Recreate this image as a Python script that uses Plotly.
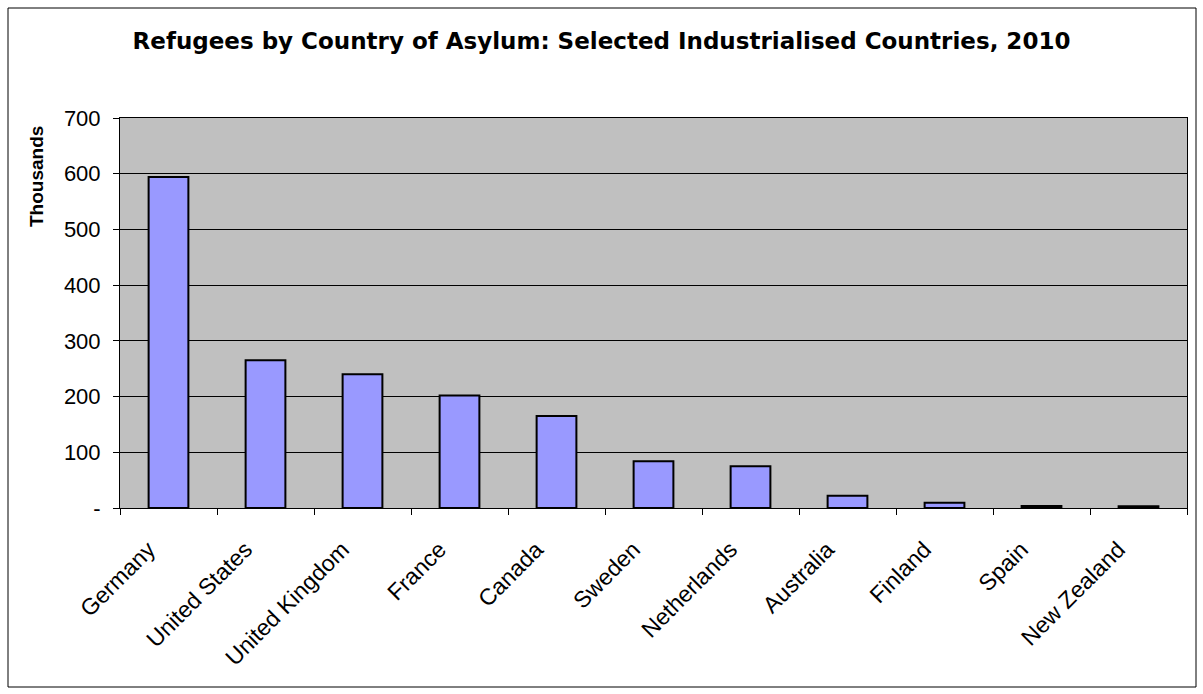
import plotly.graph_objects as go

countries = ["Germany", "United States", "United Kingdom", "France", "Canada",
             "Sweden", "Netherlands", "Australia", "Finland", "Spain", "New Zealand"]
refugees_thousands = [594, 265, 240, 202, 165, 84, 75, 22, 9.5, 3.8, 3.0]
y_tickvals = [0, 100, 200, 300, 400, 500, 600, 700]
y_ticktext = ["-", "100", "200", "300", "400", "500", "600", "700"]

W, H = 1203, 694
L, R, T, B = 120, 16, 118, 186
pw, ph = W - L - R, H - T - B

def px_x(x):
    return (x - L) / pw

def px_y(y):
    return (H - B - y) / ph

fig = go.Figure()
fig.add_trace(go.Bar(
    x=countries, y=refugees_thousands,
    marker=dict(color="#9999FF", line=dict(color="black", width=2)),
    width=0.41,
))

font = "Liberation Sans, Arial, sans-serif"
fig.update_layout(
    width=W, height=H,
    margin=dict(l=L, r=R, t=T, b=B),
    paper_bgcolor="white", plot_bgcolor="#C0C0C0",
    showlegend=False,
    font=dict(family=font, color="black"),
    title=dict(text="<b>Refugees by Country of Asylum: Selected Industrialised Countries, 2010</b>",
               x=0.5, xanchor="center", y=1 - 41 / H, yanchor="middle",
               font=dict(size=23, family="DejaVu Sans", color="black")),
    xaxis=dict(tickangle=-45, tickfont=dict(size=23, family=font),
               ticks="outside", tickson="boundaries", ticklen=6, tickcolor="black",
               showline=True, linecolor="black", linewidth=1, mirror=True,
               showgrid=False, ticklabelshift=-20, ticklabelstandoff=18),
    yaxis=dict(range=[0, 700], tickvals=y_tickvals, ticktext=y_ticktext,
               tickfont=dict(size=22, family=font),
               ticks="outside", ticklen=6, tickcolor="black",
               showline=True, linecolor="black", linewidth=1, mirror=True,
               showgrid=True, gridcolor="black", gridwidth=1, zeroline=False,
               ticklabelstandoff=8),
    shapes=[dict(type="rect", xref="paper", yref="paper",
                 x0=px_x(8), x1=px_x(1196), y0=px_y(687), y1=px_y(8),
                 line=dict(color="black", width=1), fillcolor="rgba(0,0,0,0)")],
    annotations=[dict(text="<b>Thousands</b>", textangle=-90, showarrow=False,
                      xref="paper", yref="paper", x=px_x(36), y=px_y(177),
                      xanchor="center", yanchor="middle",
                      font=dict(size=19, family=font, color="black"))],
)

fig.write_html("out.html")
